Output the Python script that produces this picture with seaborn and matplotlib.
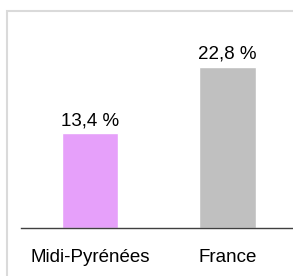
import matplotlib
matplotlib.use("Agg")
import matplotlib.pyplot as plt
import seaborn as sns
import pandas as pd
from matplotlib.patches import Rectangle

categories = ["Midi-Pyrénées", "France"]
values = [13.4, 22.8]
value_labels = ["13,4 %", "22,8 %"]
colors = ["#E6A0FA", "#C0C0C0"]

sns.set_theme(style="white")
plt.rcParams['font.family'] = ['Liberation Sans', 'DejaVu Sans']

W, H = 293, 276
fig = plt.figure(figsize=(W/100, H/100), dpi=100)

# border
fig.patches.append(Rectangle((6.5/W, -0.1), 1.2, 1 - 10.5/H + 0.1, transform=fig.transFigure,
                             fill=False, edgecolor="#DADADA", linewidth=1.5, zorder=0))

ax = fig.add_axes([21/W, 48/H, 1 - 21/W, 176.75/H])
df = pd.DataFrame({"cat": categories, "val": values})
sns.barplot(data=df, x="cat", y="val", hue="cat", palette=colors, ax=ax,
            width=0.41, legend=False, saturation=1)
ax.set_xlim(-0.5, 1.476)
ax.set_ylim(0, 25)
for s in ["top", "right", "left"]:
    ax.spines[s].set_visible(False)
ax.spines["bottom"].set_color("#404040")
ax.spines["bottom"].set_linewidth(1.0)
ax.set_yticks([])
ax.set_xlabel("")
ax.set_ylabel("")
ax.tick_params(axis="x", length=0, pad=15, labelsize=13.5, colors="black")
ax.patch.set_alpha(0)
for i, (v, lab) in enumerate(zip(values, value_labels)):
    ax.annotate(lab, (i, v), xytext=(0, 3), textcoords="offset points",
                ha="center", va="bottom", fontsize=13.5, color="black")

fig.savefig("out.png", dpi=100)
